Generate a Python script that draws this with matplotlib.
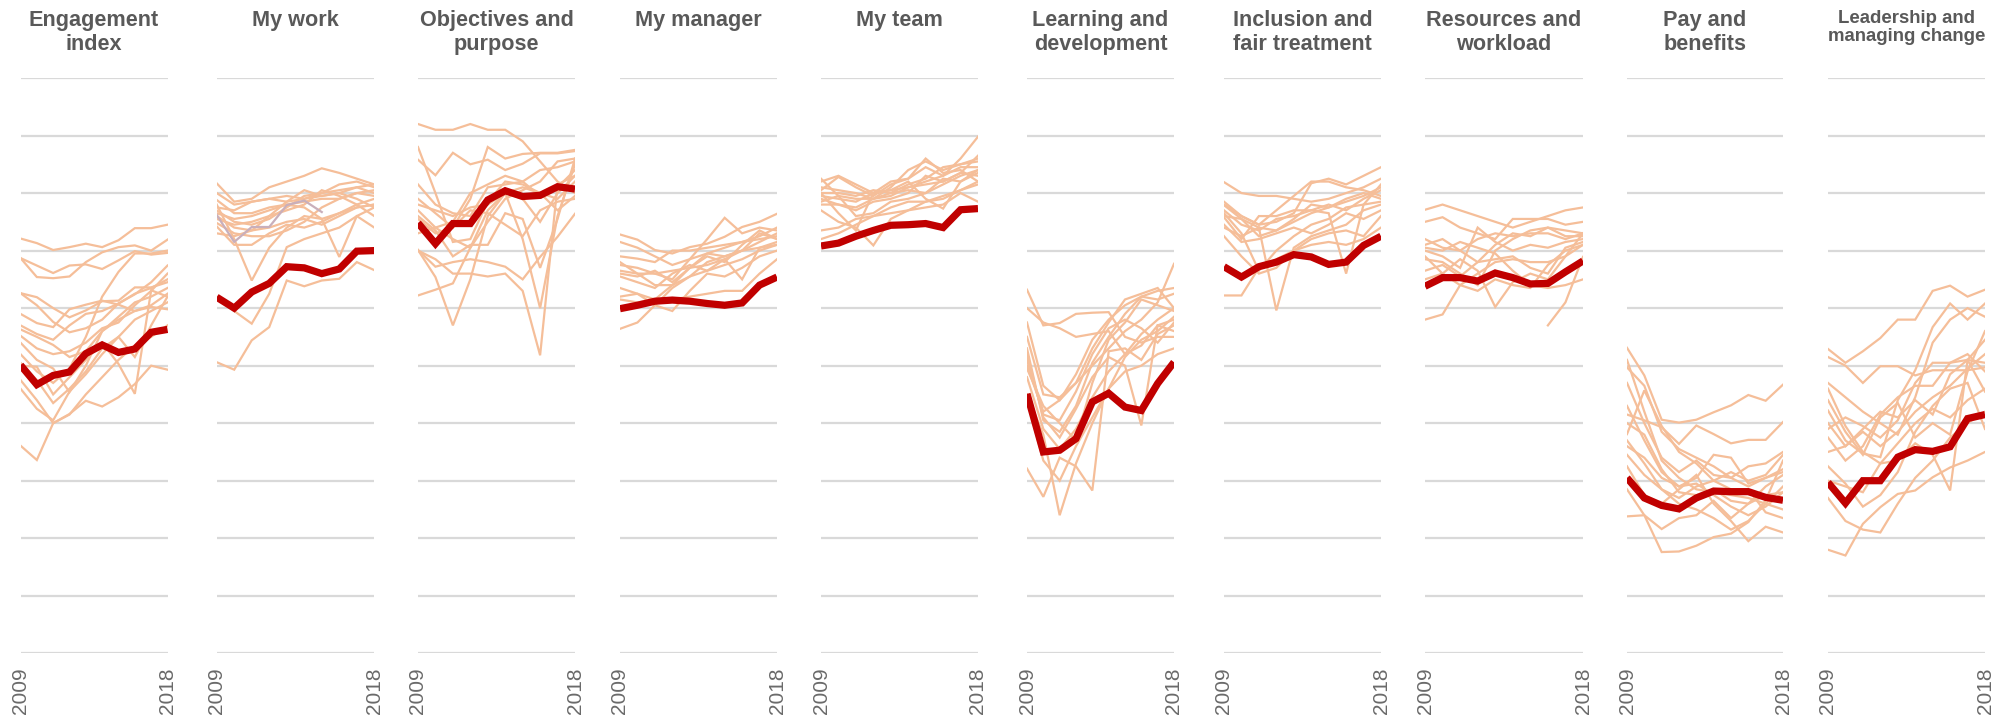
import numpy as np
import matplotlib
matplotlib.use("Agg")
import matplotlib.pyplot as plt

nan = np.nan
years = list(range(2009, 2019))
tick_years = [2009, 2018]
titles = ["Engagement\nindex", "My work", "Objectives and\npurpose", "My manager",
          "My team", "Learning and\ndevelopment", "Inclusion and\nfair treatment",
          "Resources and\nworkload", "Pay and\nbenefits", "Leadership and\nmanaging change"]

# Civil-service-wide series (thick red line), % positive
engagement_cs = [50.1, 46.7, 48.3, 48.9, 52.1, 53.6, 52.3, 52.9, 55.8, 56.3]
mywork_cs = [61.9, 60.0, 62.8, 64.3, 67.2, 67.0, 66.0, 66.8, 69.9, 70.0]
objectives_cs = [74.8, 71.2, 74.7, 74.7, 78.8, 80.4, 79.4, 79.6, 81.1, 80.7]
manager_cs = [59.9, 60.5, 61.2, 61.4, 61.2, 60.8, 60.5, 60.9, 64.0, 65.4]
team_cs = [70.8, 71.3, 72.5, 73.5, 74.4, 74.5, 74.7, 74.0, 77.1, 77.3]
learning_cs = [45.1, 35.0, 35.3, 37.3, 43.7, 45.2, 42.8, 42.2, 46.9, 50.6]
inclusion_cs = [67.2, 65.4, 67.2, 68.0, 69.3, 68.9, 67.6, 68.0, 70.9, 72.5]
resources_cs = [63.8, 65.3, 65.3, 64.7, 66.1, 65.3, 64.2, 64.3, 66.3, 68.2]
pay_cs = [30.5, 27.0, 25.7, 25.1, 27.0, 28.2, 28.1, 28.1, 27.1, 26.6]
leadership_cs = [29.7, 26.1, 30.0, 30.0, 34.1, 35.4, 35.1, 35.9, 40.8, 41.5]

# Individual departments (thin lines)
engagement_depts = [
    [72.1, 71.3, 70.1, 70.6, 71.2, 70.6, 71.8, 73.9, 73.9, 74.5],
    [68.7, 65.4, 65.2, 65.5, 68.0, 69.7, 70.6, 70.9, 70.0, 71.9],
    [68.7, 67.4, 66.1, 67.4, 67.6, 66.8, 68.3, 69.9, 69.3, 69.6],
    [62.6, 61.9, 60.0, 58.4, 59.6, 61.2, 61.3, 63.6, 63.6, 64.5],
    [62.6, 60.5, 57.6, 55.8, 56.5, 58.0, 60.8, 62.5, 63.5, 65.0],
    [59.0, 57.4, 56.7, 59.8, 60.6, 61.3, 60.6, 59.5, 60.2, 59.8],
    [57.0, 55.5, 54.5, 57.0, 59.0, 59.5, 60.8, 62.4, 64.5, 67.4],
    [56.3, 55.0, 53.6, 51.5, 52.5, 56.0, 58.5, 61.0, 62.0, 63.5],
    [55.2, 53.0, 52.0, 52.5, 54.0, 56.5, 57.5, 60.5, 63.0, 66.0],
    [52.0, 49.0, 47.0, 49.5, 55.0, 62.0, 66.3, 69.5, 69.5, 70.0],
    [50.5, 47.5, 43.5, 46.0, 49.0, 53.0, 55.0, 51.5, 57.0, 62.0],
    [50.0, 49.8, 45.0, 48.0, 51.0, 54.0, 50.3, 45.1, 63.1, 62.0],
    [47.5, 44.0, 40.0, 41.5, 45.0, 48.0, 51.0, 53.5, 55.0, 57.0],
    [36.1, 33.6, 40.0, 41.6, 43.9, 42.9, 44.5, 46.8, 50.0, 49.3],
    [46.0, 42.5, 40.5, 45.5, 48.5, 52.0, 55.0, 58.0, 59.5, 61.0],
    [54.0, 51.0, 49.5, 45.4, 50.0, 56.0, 58.0, 59.5, 60.5, 62.5],
]
mywork_depts = [
    [81.7, 78.5, 79.0, 81.0, 82.0, 83.0, 84.3, 83.5, 82.5, 81.5],
    [80.0, 78.0, 78.5, 79.0, 78.5, 79.0, 79.5, 80.0, 81.0, 81.5],
    [78.8, 76.5, 76.5, 77.5, 78.0, 78.5, 79.0, 79.0, 80.0, 80.5],
    [77.0, 75.0, 74.5, 75.5, 77.5, 79.5, 80.0, 81.5, 82.0, 81.0],
    [76.0, 74.0, 73.5, 74.0, 75.0, 75.5, 74.5, 76.0, 77.5, 78.0],
    [74.8, 73.0, 72.5, 72.5, 73.5, 75.0, 77.5, 79.0, 80.0, 79.5],
    [74.2, 71.0, 71.0, 73.0, 74.5, 74.0, 75.0, 76.5, 78.0, 79.0],
    [78.0, 72.0, 64.8, 70.5, 74.0, 76.0, 75.5, 76.5, 77.5, 78.0],
    [76.5, 75.5, 76.0, 77.0, 78.0, 77.5, 75.5, 68.9, 76.0, 77.5],
    [62.0, 59.5, 57.3, 62.5, 70.6, 72.0, 73.0, 74.0, 76.0, 74.0],
    [50.6, 49.3, 54.4, 56.7, 64.8, 63.8, 64.8, 65.1, 68.0, 66.6],
    [73.0, 72.5, 73.5, 76.0, 78.5, 80.5, 79.5, 80.0, 79.0, 77.5],
    [77.5, 77.0, 78.5, 79.0, 79.5, 79.0, 80.0, 80.5, 81.0, 80.0],
    [75.5, 74.5, 75.0, 76.0, 77.0, 78.0, 80.5, 79.5, 78.0, 76.0],
]
mywork_discontinued = [76.2, 71.5, 74.1, 74.1, 77.9, 78.7, 76.7, nan, nan, nan]
objectives_depts = [
    [92.0, 91.0, 91.0, 92.0, 91.0, 91.0, 89.0, 85.5, 82.0, 80.0],
    [85.8, 83.1, 87.0, 85.0, 85.8, 84.0, 85.1, 86.9, 86.9, 87.3],
    [79.0, 76.5, 74.0, 79.0, 88.0, 86.0, 86.8, 87.0, 87.0, 87.5],
    [70.1, 65.4, 57.0, 65.0, 76.0, 80.0, 81.0, 80.0, 79.0, 82.0],
    [78.0, 77.0, 76.0, 77.5, 78.0, 80.0, 72.0, 60.0, 76.0, 85.0],
    [70.0, 68.5, 66.0, 66.0, 65.5, 66.0, 63.0, 51.8, 81.5, 83.0],
    [70.1, 67.2, 68.0, 68.5, 68.0, 67.2, 65.0, 68.9, 72.4, 76.4],
    [62.2, 63.2, 64.3, 70.5, 77.0, 80.0, 79.0, 75.0, 80.0, 83.0],
    [81.5, 78.0, 76.5, 76.0, 81.0, 81.5, 82.0, 84.0, 84.5, 85.5],
    [77.0, 74.0, 72.0, 70.5, 75.0, 79.0, 80.5, 82.0, 85.5, 86.0],
    [88.0, 80.0, 71.5, 72.0, 78.5, 82.0, 81.5, 80.0, 77.0, 79.5],
    [76.0, 73.5, 69.0, 71.0, 71.0, 76.5, 75.5, 67.0, 75.5, 86.0],
    [75.5, 73.0, 74.0, 77.0, 76.5, 74.5, 72.5, 77.0, 78.5, 79.0],
    [73.0, 74.0, 75.0, 80.0, 81.5, 83.0, 82.0, 79.5, 81.0, 84.0],
]
manager_depts = [
    [72.8, 71.9, 70.1, 69.5, 70.6, 71.2, 72.4, 74.1, 75.0, 76.4],
    [71.5, 70.5, 69.0, 67.5, 68.5, 72.0, 75.7, 73.0, 74.0, 73.5],
    [69.0, 68.6, 68.0, 70.0, 70.0, 70.5, 71.0, 71.5, 72.0, 72.5],
    [67.5, 67.0, 66.0, 65.0, 68.5, 69.5, 70.5, 71.5, 72.5, 74.0],
    [66.0, 65.5, 66.5, 64.5, 67.0, 69.0, 68.0, 71.0, 73.5, 72.0],
    [65.5, 64.5, 63.5, 66.0, 67.5, 66.5, 68.5, 65.0, 70.5, 71.0],
    [63.5, 62.5, 61.5, 64.0, 65.5, 68.0, 69.0, 70.0, 70.5, 71.5],
    [62.0, 62.5, 60.5, 59.5, 63.0, 66.0, 65.5, 67.0, 69.0, 70.0],
    [56.4, 57.5, 60.5, 63.5, 65.5, 66.5, 67.5, 68.5, 70.0, 71.0],
    [61.5, 61.0, 61.5, 61.5, 62.0, 62.5, 63.0, 63.0, 66.0, 68.5],
    [68.0, 66.0, 64.0, 64.0, 67.0, 69.5, 69.0, 70.0, 73.0, 72.0],
    [66.5, 66.0, 66.0, 66.5, 67.0, 67.5, 68.5, 70.0, 71.5, 73.0],
]
team_depts = [
    [82.0, 83.0, 81.5, 80.0, 82.0, 82.5, 84.5, 83.0, 86.0, 89.8],
    [80.5, 82.8, 81.0, 79.5, 81.5, 82.5, 86.0, 83.5, 84.0, 82.0],
    [80.0, 80.0, 79.5, 80.5, 80.0, 81.5, 82.5, 84.5, 85.0, 85.5],
    [79.5, 79.0, 78.5, 80.0, 80.5, 81.0, 82.0, 83.0, 84.5, 84.5],
    [78.5, 79.5, 79.0, 79.0, 79.5, 81.0, 81.5, 82.0, 83.5, 83.0],
    [78.0, 78.0, 77.5, 79.0, 80.0, 80.5, 80.0, 81.5, 83.0, 84.0],
    [80.0, 76.5, 73.5, 80.0, 80.5, 82.0, 79.0, 77.3, 82.0, 83.5],
    [77.0, 75.0, 74.0, 70.9, 75.5, 77.0, 78.5, 79.0, 80.5, 82.0],
    [73.5, 74.0, 75.5, 76.0, 77.5, 78.5, 78.5, 79.5, 80.5, 81.5],
    [72.0, 73.0, 74.5, 76.0, 76.5, 77.0, 77.5, 78.0, 80.0, 78.5],
    [82.5, 79.5, 76.0, 76.5, 78.5, 79.0, 80.0, 82.5, 82.0, 84.0],
    [81.0, 80.5, 80.0, 79.0, 81.0, 84.0, 85.5, 84.0, 85.0, 86.0],
    [79.0, 78.0, 77.0, 78.5, 79.0, 80.0, 83.0, 82.0, 83.5, 86.5],
]
learning_depts = [
    [63.2, 57.0, 57.4, 59.0, 59.2, 59.3, 55.0, 54.0, 55.0, 55.0],
    [60.0, 57.5, 56.5, 55.0, 55.5, 56.0, 52.0, 55.5, 58.0, 60.0],
    [50.0, 42.0, 44.0, 47.0, 50.0, 53.0, 56.0, 58.0, 61.0, 67.7],
    [57.5, 46.5, 44.0, 48.5, 54.5, 58.0, 60.5, 62.0, 63.0, 63.5],
    [55.0, 45.0, 44.5, 47.0, 53.0, 57.5, 61.5, 62.5, 63.5, 60.0],
    [53.0, 40.5, 38.5, 43.0, 50.5, 55.0, 59.0, 62.0, 61.5, 62.5],
    [49.5, 43.0, 40.0, 37.0, 47.0, 54.5, 57.5, 61.5, 60.5, 59.5],
    [48.0, 39.0, 35.5, 39.0, 44.5, 49.0, 52.0, 53.5, 57.0, 58.0],
    [45.0, 38.0, 24.0, 33.0, 40.0, 46.0, 49.0, 50.0, 52.0, 53.0],
    [32.1, 27.2, 34.0, 32.5, 28.3, 52.5, 53.0, 51.0, 55.5, 57.0],
    [52.0, 41.0, 37.5, 42.5, 48.0, 51.5, 50.0, 39.6, 57.0, 56.0],
    [44.0, 33.5, 30.0, 36.0, 41.0, 46.0, 51.5, 54.5, 56.0, 58.5],
    [51.0, 41.5, 40.5, 45.5, 52.0, 56.5, 58.0, 56.5, 54.0, 57.5],
]
inclusion_depts = [
    [81.9, 80.0, 79.5, 79.5, 79.0, 78.5, 79.0, 80.0, 81.0, 82.5],
    [78.0, 76.0, 74.5, 75.0, 76.5, 81.7, 82.5, 81.5, 83.0, 84.5],
    [77.9, 75.5, 74.0, 73.5, 75.0, 76.5, 77.5, 78.5, 79.5, 81.0],
    [77.0, 74.5, 73.5, 75.5, 76.0, 77.0, 78.0, 77.0, 79.0, 80.5],
    [75.8, 72.0, 76.0, 76.0, 77.0, 77.0, 76.5, 66.0, 78.0, 81.5],
    [74.0, 72.5, 74.0, 59.6, 70.5, 72.5, 73.5, 74.5, 77.0, 78.0],
    [72.5, 69.0, 66.0, 67.0, 70.0, 72.0, 73.0, 73.5, 72.5, 76.0],
    [62.2, 62.2, 67.0, 68.5, 70.0, 71.0, 71.5, 71.0, 72.0, 74.0],
    [76.5, 73.0, 66.5, 70.0, 72.5, 74.5, 75.5, 77.5, 78.0, 78.5],
    [78.5, 76.0, 74.5, 77.0, 79.5, 82.0, 82.0, 81.0, 80.5, 79.5],
    [76.0, 75.5, 72.5, 73.5, 75.5, 78.0, 77.5, 79.0, 80.0, 79.0],
    [74.5, 71.5, 72.0, 73.0, 74.0, 73.0, 74.5, 76.5, 75.5, 77.0],
]
resources_depts = [
    [77.1, 78.0, 77.0, 76.0, 75.0, 74.0, 75.0, 76.0, 77.0, 77.5],
    [75.0, 75.8, 74.0, 73.0, 72.0, 75.5, 75.5, 75.5, 74.5, 75.0],
    [71.0, 72.0, 70.0, 68.0, 71.0, 73.0, 72.5, 74.0, 73.5, 73.0],
    [72.0, 70.5, 70.0, 72.0, 73.0, 72.5, 73.0, 73.0, 72.0, 73.0],
    [70.0, 69.0, 67.0, 74.0, 71.5, 70.0, 71.0, 70.5, 71.5, 72.0],
    [68.5, 68.0, 66.0, 64.0, 70.0, 72.0, 73.5, 74.0, 72.5, 72.5],
    [69.0, 66.0, 68.5, 66.5, 60.2, 64.5, 66.0, 65.0, 69.0, 73.0],
    [65.0, 66.0, 64.0, 63.0, 65.0, 64.0, 63.5, 67.5, 70.0, 71.0],
    [66.5, 67.5, 65.5, 68.0, 68.5, 69.0, 67.0, 66.0, 70.5, 71.5],
    [58.0, 58.9, 64.0, 66.0, 68.0, 68.5, 68.0, 68.0, 69.0, 71.0],
    [nan, nan, nan, nan, nan, nan, nan, 57.0, 61.0, 68.9],
    [70.5, 70.0, 71.5, 70.5, 69.5, 66.5, 64.0, 63.5, 64.0, 65.0],
]
pay_depts = [
    [53.1, 48.3, 40.6, 40.1, 40.6, 41.9, 43.1, 44.9, 43.9, 46.7],
    [49.7, 46.5, 38.5, 35.5, 34.0, 32.5, 30.5, 29.0, 30.5, 31.5],
    [38.1, 45.7, 39.5, 35.0, 33.0, 30.0, 31.5, 30.0, 31.0, 34.5],
    [41.5, 40.5, 39.3, 36.4, 39.6, 38.1, 36.5, 37.1, 37.1, 40.2],
    [51.0, 42.0, 33.5, 30.5, 28.5, 28.0, 27.5, 27.0, 26.0, 25.0],
    [47.0, 40.0, 34.0, 31.5, 33.5, 31.0, 30.5, 32.5, 33.0, 35.0],
    [43.0, 37.0, 31.5, 29.0, 30.5, 34.5, 34.0, 29.5, 30.5, 32.0],
    [40.0, 38.0, 32.0, 28.0, 27.5, 28.5, 26.5, 26.0, 29.0, 31.0],
    [36.0, 34.0, 30.5, 29.0, 29.5, 27.5, 25.5, 24.0, 25.5, 28.0],
    [28.5, 24.0, 17.6, 17.7, 18.7, 20.2, 20.8, 22.8, 26.6, 33.5],
    [23.8, 24.0, 21.6, 23.5, 24.0, 26.5, 23.5, 26.0, 27.5, 28.0],
    [32.5, 27.5, 26.0, 28.5, 31.0, 26.0, 23.0, 19.5, 22.0, 21.0],
    [37.0, 33.0, 28.5, 26.0, 25.0, 23.5, 21.5, 23.0, 26.0, 29.0],
    [34.5, 31.0, 28.5, 27.0, 29.0, 30.0, 28.5, 28.5, 24.5, 23.5],
]
leadership_depts = [
    [52.9, 50.5, 52.5, 54.8, 58.0, 58.0, 63.0, 63.9, 62.0, 63.2],
    [51.5, 50.0, 47.0, 49.9, 49.9, 48.3, 49.2, 49.2, 49.2, 49.7],
    [42.2, 37.0, 34.7, 34.1, 44.0, 49.2, 56.7, 60.8, 58.0, 60.8],
    [47.0, 44.5, 42.0, 40.0, 38.0, 44.5, 54.0, 58.0, 60.0, 58.5],
    [37.5, 33.5, 36.0, 41.5, 44.5, 46.5, 46.5, 50.5, 51.0, 45.5],
    [40.0, 36.0, 39.0, 42.0, 41.0, 44.0, 41.5, 48.5, 51.0, 54.5],
    [44.0, 38.5, 34.5, 41.0, 43.5, 37.5, 40.0, 38.0, 49.0, 56.0],
    [35.0, 36.0, 38.5, 36.0, 38.5, 42.0, 44.5, 46.5, 49.5, 52.0],
    [18.0, 17.0, 22.5, 25.4, 27.7, 28.3, 30.6, 32.3, 33.5, 35.0],
    [27.0, 23.0, 21.5, 21.0, 26.0, 30.5, 33.5, 37.5, 40.0, 42.0],
    [32.5, 29.5, 25.5, 27.5, 31.5, 38.5, 43.0, 46.0, 47.0, 39.0],
    [46.0, 39.5, 35.0, 33.0, 33.5, 36.5, 34.5, 28.3, 51.0, 50.5],
    [39.0, 41.0, 39.5, 37.5, 40.5, 47.0, 50.5, 50.5, 52.0, 49.0],
    [30.0, 29.0, 28.0, 33.0, 36.5, 40.0, 42.5, 41.0, 44.0, 46.0],
]

cs_series = [engagement_cs, mywork_cs, objectives_cs, manager_cs, team_cs,
             learning_cs, inclusion_cs, resources_cs, pay_cs, leadership_cs]
dept_series = [engagement_depts, mywork_depts, objectives_depts, manager_depts, team_depts,
               learning_depts, inclusion_depts, resources_depts, pay_depts, leadership_depts]

W, H = 2011, 715
fig = plt.figure(figsize=(W / 100, H / 100), dpi=100)

lefts = [20.5, 216.7, 418, 620, 821, 1027, 1224, 1425, 1627, 1828]
widths = [147, 157.6, 157, 157, 157, 147, 157, 158, 156, 157]
top_px, bot_px = 78, 653.3

DEPT_COLOR = "#F5BE99"
CS_COLOR = "#C00000"
TEXT_COLOR = "#595959"

for i in range(10):
    ax = fig.add_axes([lefts[i] / W, 1 - bot_px / H, widths[i] / W, (bot_px - top_px) / H])
    ax.set_xlim(2009, 2018)
    ax.set_ylim(0, 100)
    ax.set_yticks(np.arange(0, 101, 10))
    ax.set_yticklabels([])
    ax.yaxis.grid(True, color="#D9D9D9", lw=1.6)
    ax.set_axisbelow(True)
    for s in ax.spines.values():
        s.set_visible(False)
    ax.tick_params(axis="both", length=0)
    ax.tick_params(axis="x", pad=10, labelsize=15, labelcolor="#6A6A6A")
    ax.set_xticks(tick_years)
    ax.set_xticklabels([str(y) for y in tick_years], rotation=90, family="Liberation Sans")
    for d in dept_series[i]:
        ax.plot(years, d, color=DEPT_COLOR, lw=1.6, zorder=2, solid_joinstyle="miter")
    if i == 1:
        ax.plot(years, mywork_discontinued, color="#C9AFBB", lw=1.6, zorder=2.5)
    ax.plot(years, cs_series[i], color=CS_COLOR, lw=5.2, zorder=3,
            solid_capstyle="butt", solid_joinstyle="miter")

    cx = (lefts[i] + widths[i] / 2) / W
    if i == 9:
        fig.text(cx, 1 - 10 / H, titles[i], ha="center", va="top", fontsize=13.4,
                 fontweight="bold", color=TEXT_COLOR, family="Liberation Sans", linespacing=1.1)
    else:
        fig.text(cx, 1 - 10 / H, titles[i], ha="center", va="top", fontsize=15.6,
                 fontweight="bold", color=TEXT_COLOR, family="Liberation Sans", linespacing=1.18)

fig.savefig("out.png", dpi=100)
